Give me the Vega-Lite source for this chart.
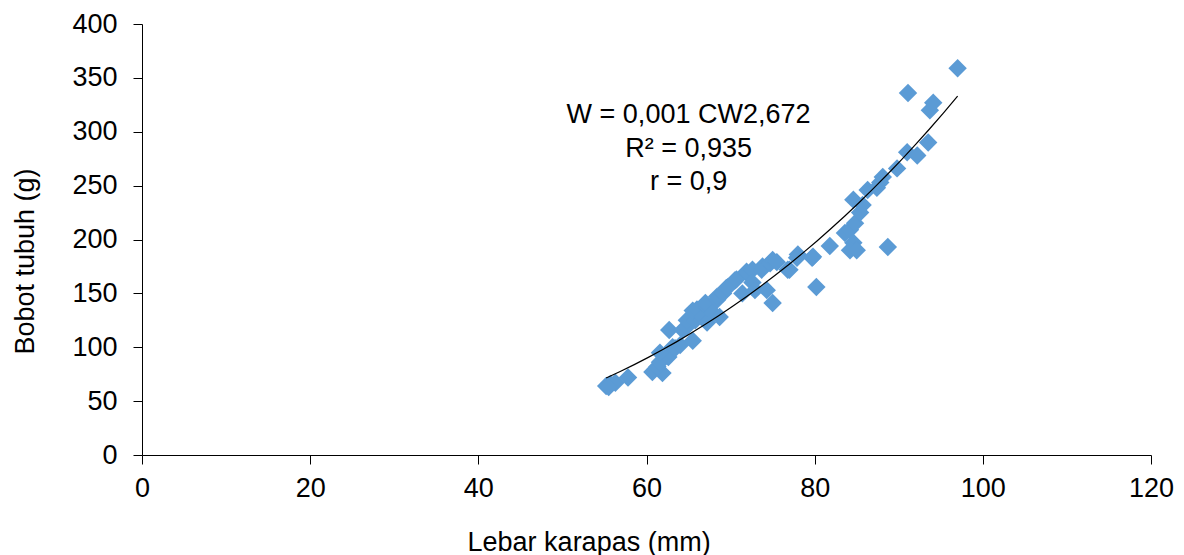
{
  "$schema": "https://vega.github.io/schema/vega-lite/v6.json",
  "autosize": {"type": "none"},
  "width": 1009,
  "height": 431,
  "padding": {"left": 142, "top": 24, "right": 33, "bottom": 100},
  "background": "white",
  "config": {
    "view": {"stroke": null},
    "axis": {
      "grid": false,
      "labelFlush": false,
      "labelOverlap": false,
      "domainColor": "black",
      "domainWidth": 1,
      "tickColor": "black",
      "tickWidth": 1,
      "tickSize": 9,
      "labelColor": "black",
      "labelFont": "Liberation Sans",
      "labelFontSize": 27,
      "titleColor": "black",
      "titleFont": "Liberation Sans",
      "titleFontSize": 27,
      "titleFontWeight": "normal"
    }
  },
  "data": {
    "values": [
      {"cw": 55.2, "w": 64}, {"cw": 55.7, "w": 66}, {"cw": 56.3, "w": 67}, {"cw": 55.5, "w": 63},
      {"cw": 57.8, "w": 72}, {"cw": 60.7, "w": 77}, {"cw": 61.9, "w": 76}, {"cw": 61.3, "w": 82},
      {"cw": 61.6, "w": 86}, {"cw": 62.6, "w": 91}, {"cw": 61.6, "w": 95}, {"cw": 63.1, "w": 100},
      {"cw": 63.4, "w": 99}, {"cw": 64.0, "w": 102}, {"cw": 62.7, "w": 116}, {"cw": 65.5, "w": 106},
      {"cw": 64.3, "w": 116}, {"cw": 64.8, "w": 119}, {"cw": 64.8, "w": 125}, {"cw": 65.8, "w": 125},
      {"cw": 65.5, "w": 134}, {"cw": 66.0, "w": 135}, {"cw": 66.7, "w": 128}, {"cw": 67.2, "w": 123},
      {"cw": 67.2, "w": 137}, {"cw": 67.0, "w": 141}, {"cw": 67.9, "w": 132}, {"cw": 68.7, "w": 128},
      {"cw": 68.4, "w": 144}, {"cw": 68.4, "w": 147}, {"cw": 69.1, "w": 150}, {"cw": 69.5, "w": 155},
      {"cw": 69.7, "w": 156}, {"cw": 70.5, "w": 162}, {"cw": 70.7, "w": 163}, {"cw": 71.4, "w": 150},
      {"cw": 71.9, "w": 169}, {"cw": 71.9, "w": 170}, {"cw": 72.6, "w": 172}, {"cw": 72.6, "w": 160},
      {"cw": 72.9, "w": 153}, {"cw": 73.7, "w": 172}, {"cw": 73.8, "w": 175}, {"cw": 74.3, "w": 153},
      {"cw": 75.0, "w": 141}, {"cw": 74.7, "w": 178}, {"cw": 75.0, "w": 181}, {"cw": 75.5, "w": 179},
      {"cw": 76.8, "w": 172}, {"cw": 77.0, "w": 172}, {"cw": 78.0, "w": 186}, {"cw": 77.9, "w": 183},
      {"cw": 79.7, "w": 183}, {"cw": 79.8, "w": 184}, {"cw": 80.2, "w": 156}, {"cw": 81.8, "w": 194},
      {"cw": 83.6, "w": 206}, {"cw": 84.2, "w": 209}, {"cw": 84.6, "w": 197}, {"cw": 84.2, "w": 190},
      {"cw": 85.0, "w": 190}, {"cw": 84.8, "w": 215}, {"cw": 85.4, "w": 225}, {"cw": 85.7, "w": 232},
      {"cw": 84.6, "w": 237}, {"cw": 86.3, "w": 246}, {"cw": 87.4, "w": 248}, {"cw": 87.8, "w": 253},
      {"cw": 88.1, "w": 258}, {"cw": 88.7, "w": 193}, {"cw": 89.8, "w": 266}, {"cw": 91.0, "w": 281},
      {"cw": 92.2, "w": 278}, {"cw": 93.5, "w": 290}, {"cw": 91.1, "w": 336}, {"cw": 93.7, "w": 320},
      {"cw": 94.1, "w": 327}, {"cw": 97.0, "w": 359}
    ]
  },
  "layer": [
    {
      "mark": {"type": "point", "shape": "diamond", "filled": true, "size": 340, "color": "#5B9BD5", "opacity": 1},
      "encoding": {
        "x": {
          "field": "cw", "type": "quantitative",
          "scale": {"domain": [0, 120], "nice": false, "zero": false},
          "axis": {
            "values": [0, 20, 40, 60, 80, 100, 120],
            "title": "Lebar karapas (mm)",
            "labelPadding": 11,
            "titleX": 446.6,
            "titleY": 95,
            "titleBaseline": "alphabetic"
          }
        },
        "y": {
          "field": "w", "type": "quantitative",
          "scale": {"domain": [0, 400], "nice": false},
          "axis": {
            "values": [0, 50, 100, 150, 200, 250, 300, 350, 400],
            "title": "Bobot tubuh (g)",
            "labelPadding": 16,
            "titleX": -108.7,
            "titleY": 237,
            "titleBaseline": "alphabetic",
            "titleAngle": -90
          }
        }
      }
    },
    {
      "transform": [
        {"regression": "w", "on": "cw", "method": "pow", "extent": [55.2, 97.0]}
      ],
      "mark": {"type": "line", "color": "black", "strokeWidth": 1.2},
      "encoding": {
        "x": {"field": "cw", "type": "quantitative"},
        "y": {"field": "w", "type": "quantitative"}
      }
    },
    {
      "data": {"values": [{"label": "fit"}]},
      "mark": {
        "type": "text",
        "text": ["W = 0,001 CW2,672", "R² = 0,935", "r = 0,9"],
        "font": "Liberation Sans",
        "fontSize": 27,
        "color": "black",
        "align": "center",
        "baseline": "alphabetic",
        "lineHeight": 33.5
      },
      "encoding": {
        "x": {"datum": 65.0, "type": "quantitative"},
        "y": {"datum": 308, "type": "quantitative"}
      }
    }
  ]
}
